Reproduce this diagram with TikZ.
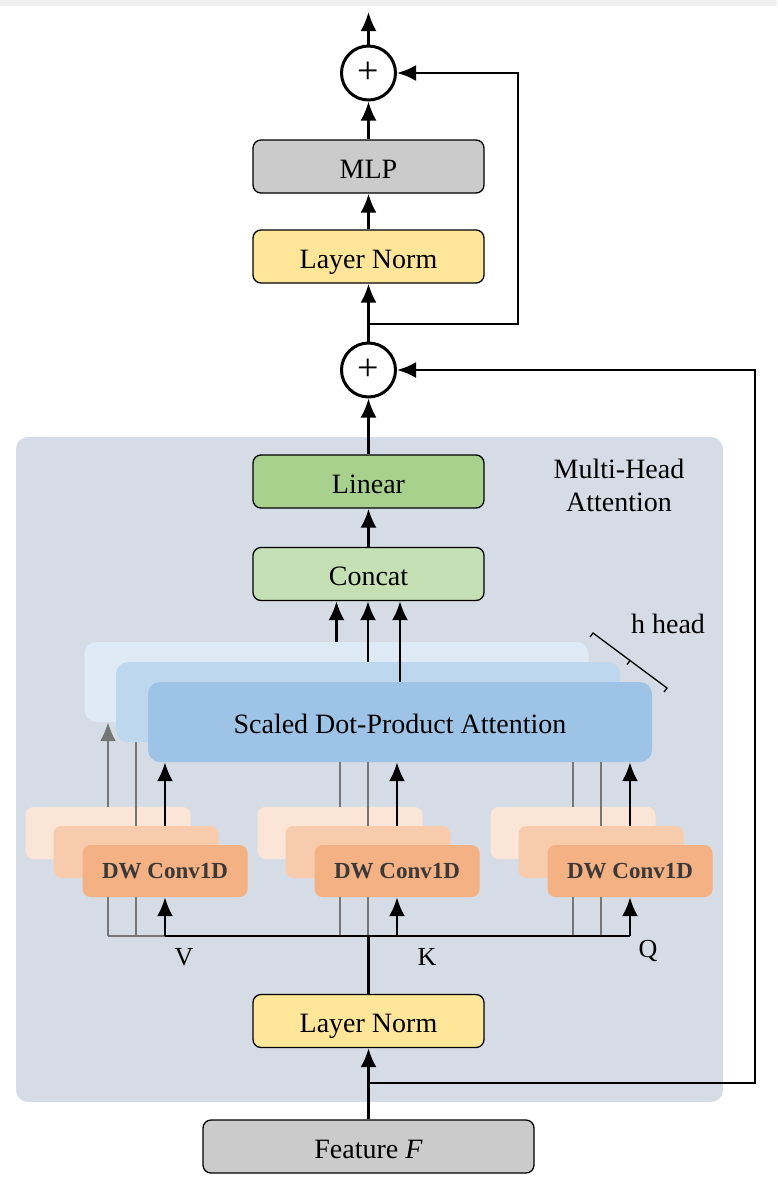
\documentclass[tikz,border=0pt]{standalone}
\usepackage{fontspec}
\setmainfont{Liberation Serif}
\usepackage{tikz}
\usetikzlibrary{positioning, arrows.meta, calc}

\definecolor{bandgray}{HTML}{F2F2F2}
\definecolor{panelbg}{HTML}{D6DCE5}
\definecolor{normfill}{HTML}{FFE699}
\definecolor{grayfill}{HTML}{CBCBCB}
\definecolor{linfill}{HTML}{A9D18E}
\definecolor{catfill}{HTML}{C5E0B4}
\definecolor{attfront}{HTML}{9DC3E6}
\definecolor{attmid}{HTML}{BDD7EE}
\definecolor{attback}{HTML}{DEEBF7}
\definecolor{convfront}{HTML}{F4B183}
\definecolor{convmid}{HTML}{F8CBAD}
\definecolor{convback}{HTML}{FBE5D6}
\definecolor{convtext}{HTML}{3B3838}
\definecolor{ghostgray}{HTML}{767676}

\begin{document}
\begin{tikzpicture}[x=1pt, y=-1pt, >={Latex[length=19pt, width=16pt]},
  font=\fontsize{28}{33}\selectfont,
  base/.style={draw, line width=1.3pt, rounded corners=8pt, align=center,
               minimum width=231pt, minimum height=53pt, inner sep=0pt,
               text height=23pt, text depth=0pt},
  norm/.style={base, fill=normfill}, plain/.style={base, fill=grayfill},
  lin/.style={base, fill=linfill}, cat/.style={base, fill=catfill},
  addop/.style={circle, draw, line width=3pt, fill=white, minimum size=54pt,
                inner sep=0pt, font=\fontsize{38}{38}\selectfont},
  attn/.style={rounded corners=12pt, minimum width=504pt, minimum height=80pt,
               inner sep=0pt, text height=22pt, text depth=0pt},
  conv/.style={rounded corners=8pt, minimum width=165pt, minimum height=52pt,
               inner sep=0pt, text height=15pt, text depth=0pt,
               text=convtext, font=\fontsize{23}{26}\selectfont\bfseries},
  flow/.style={->, line width=2.6pt},
  ghost/.style={draw=ghostgray, line width=2.2pt},
  qkv/.style={font=\fontsize{26}{30}\selectfont}]
  % frame and panel
  \useasboundingbox (0,0) rectangle (777,1191);
  \fill[bandgray] (0,0) rectangle (777,6);
  \fill[panelbg, rounded corners=12pt] (16,437) rectangle (723,1102);
  % attention heads (back to front)
  \node[attn, fill=attback] (attB) at (336.5,682) {};
  \node[attn, fill=attmid]  (attM) at (368,702) {};
  \node[attn, fill=attfront] (attF) at (400,722) {Scaled Dot-Product Attention};
  % input bus
  \coordinate (bus) at (368.5,936);
  % depthwise conv stacks for V, K, Q
  \foreach \gx/\nm/\topb/\topm/\tip in {165/v/attB/attM/->, 397/k/attF/attF/-, 630/q/attF/attF/-} {
    \draw[ghost, \tip] (\gx-57,936) -- (\gx-57,0 |- \topb.south);
    \node[conv, fill=convback] (\nm3) at (\gx-57,833) {};
    \draw[ghost] (\gx-29,936) -- (\gx-29,0 |- \topm.south);
    \node[conv, fill=convmid] (\nm2) at (\gx-29,852) {};
    \draw[ghost] (\nm3 |- bus) -- (\gx,936);
    \draw[flow] (\gx,0 |- \nm2.north) -- (\gx,0 |- attF.south);
    \node[conv, fill=convfront] (\nm1) at (\gx,871) {DW Conv1D};
    \draw[flow] (\nm1 |- bus) -- (\nm1.south);
  }
  \draw[line width=2.6pt] (v1 |- bus) -- (q1 |- bus);
  \node[qkv] (vlab) at (184,957) {V};
  \node[qkv] (klab) at (427,957) {K};
  \node[qkv] (qlab) at (648,951) {Q};
  % heads into concat
  \node[cat] (concat) at (368.5,574) {Concat};
  \draw[flow] (attB.north) -- (attB.north |- concat.south);
  \draw[flow] (attM.north) -- (attM.north |- concat.south);
  \draw[flow] (attF.north) -- (attF.north |- concat.south);
  % h head bracket
  \draw[line width=1.3pt] (590,637) -- (593,633) -- (667,688) -- (664,692);
  \draw[line width=1.3pt] (630,660.5) -- (627,664.5);
  \node (hlab) at (668,624) {h head};
  \node[align=center] (mhalab) at (619,485) {Multi-Head\\Attention};
  % main column
  \node[addop] (addtop) at (368.5,73) {+};
  \node[plain] (mlp) at (368.5,166.5) {MLP};
  \node[norm] (normtop) at (368.5,256.5) {Layer Norm};
  \node[addop] (addmid) at (368.5,370) {+};
  \node[lin] (linear) at (368.5,481.5) {Linear};
  \node[norm] (normbot) at (368.5,1021) {Layer Norm};
  \node[plain, minimum width=331pt] (feat) at (368.5,1146.5) {Feature \textit{F}};
  \coordinate (out) at (368.5,12);
  \coordinate (skipA) at (368.5,1083);
  \coordinate (railA) at (755,1083);
  \coordinate (skipB) at (368.5,324);
  \coordinate (railB) at (518,324);
  % edges
  \draw[flow] (feat) -- (normbot);
  \draw[line width=2.6pt] (normbot) -- (bus);
  \draw[flow] (skipA) -- (railA) |- (addmid);
  \draw[flow] (concat) -- (linear);
  \draw[flow] (linear) -- (addmid);
  \draw[flow] (addmid) -- (normtop);
  \draw[flow] (skipB) -- (railB) |- (addtop);
  \draw[flow] (normtop) -- (mlp);
  \draw[flow] (mlp) -- (addtop);
  \draw[flow] (addtop) -- (out);
\end{tikzpicture}
\end{document}
